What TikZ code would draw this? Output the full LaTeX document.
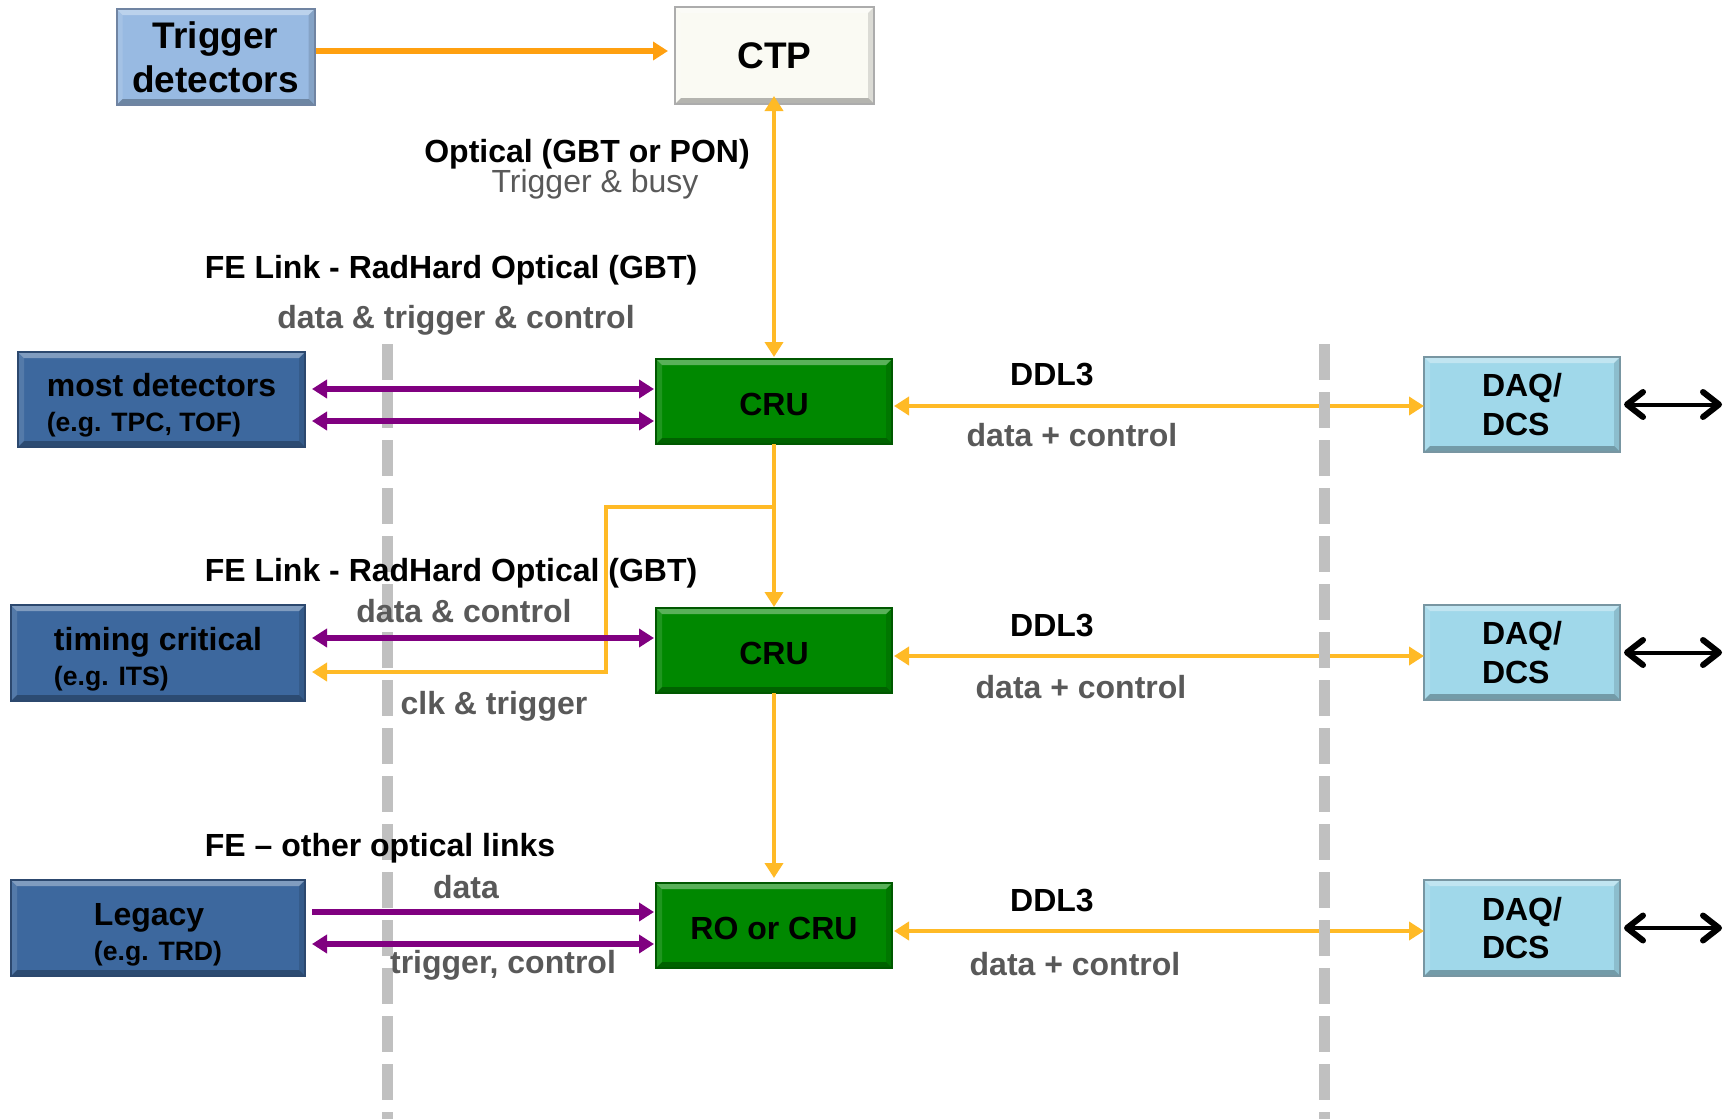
\documentclass[tikz,border=0pt]{standalone}
\usepackage{fontspec}
\setmainfont{Liberation Sans}
\usetikzlibrary{arrows.meta,calc}

\definecolor{trigfill}{RGB}{152,186,226}
\definecolor{trigline}{RGB}{112,132,162}
\definecolor{ctpfill}{RGB}{250,250,243}
\definecolor{ctpline}{RGB}{172,172,172}
\definecolor{fefill}{RGB}{61,104,158}
\definecolor{feline}{RGB}{44,72,110}
\definecolor{crufill}{RGB}{0,136,0}
\definecolor{cruline}{RGB}{0,88,0}
\definecolor{daqfill}{RGB}{160,216,234}
\definecolor{daqline}{RGB}{120,150,162}
\definecolor{linkpurple}{RGB}{128,0,128}
\definecolor{trigorange}{RGB}{255,160,16}
\definecolor{linkorange}{RGB}{255,186,38}
\definecolor{labelgray}{RGB}{89,89,89}
\definecolor{sepgray}{RGB}{192,192,192}

% struts that push box texts slightly down
\newcommand{\felift}{\rule{0pt}{17.7pt}}
\newcommand{\crulift}{\rule{0pt}{14.5pt}}

\tikzset{
  bevel/.style={path picture={
    \coordinate (bbnw) at (path picture bounding box.north west);
    \coordinate (bbne) at (path picture bounding box.north east);
    \coordinate (bbsw) at (path picture bounding box.south west);
    \coordinate (bbse) at (path picture bounding box.south east);
    \fill[white,opacity=0.35] (bbnw) -- (bbne) -- ([shift={(-3pt,-3pt)}]bbne) -- ([shift={(3pt,-3pt)}]bbnw) -- cycle;
    \fill[white,opacity=0.12] (bbnw) -- (bbsw) -- ([shift={(3pt,3pt)}]bbsw) -- ([shift={(3pt,-3pt)}]bbnw) -- cycle;
    \fill[black,opacity=0.12] (bbne) -- (bbse) -- ([shift={(-3pt,3pt)}]bbse) -- ([shift={(-3pt,-3pt)}]bbne) -- cycle;
    \fill[black,opacity=0.28] (bbsw) -- (bbse) -- ([shift={(-3pt,3pt)}]bbse) -- ([shift={(3pt,3pt)}]bbsw) -- cycle;
  }},
  box/.style={draw, line width=1pt, inner sep=0pt, outer sep=0pt, align=center,
    font=\bfseries\fontsize{16}{19.3}\selectfont, bevel},
  topbox/.style={box, minimum width=99pt, minimum height=48pt,
    font=\bfseries\fontsize{18.5}{22}\selectfont},
  febox/.style={box, fill=fefill, draw=feline, align=left,
    minimum width=147pt, minimum height=48pt,
    font=\bfseries\fontsize{16}{17.5}\selectfont},
  crubox/.style={box, fill=crufill, draw=cruline, minimum width=118pt, minimum height=42.5pt},
  daqbox/.style={box, fill=daqfill, draw=daqline, align=left, minimum width=98pt, minimum height=48pt},
  lab/.style={font=\bfseries\fontsize{16}{19}\selectfont, inner sep=0pt,
    text height=11.5pt, text depth=0pt},
  glab/.style={lab, text=labelgray},
  olink/.style={draw=linkorange, line width=2.4pt},
  plink/.style={draw=linkpurple, line width=2.6pt},
  klink/.style={draw=black, line width=2pt,
    {Straight Barb[length=8pt,width=12.5pt,line width=3pt,round]}-{Straight Barb[length=8pt,width=12.5pt,line width=3pt,round]}},
  sepline/.style={draw=sepgray, line width=5.5pt, dash pattern=on 18pt off 6pt},
  >={Triangle[length=7.5pt,width=9pt]}
}

\begin{document}
\begin{tikzpicture}[x=0.5pt,y=-0.5pt]
\useasboundingbox (0,0) rectangle (1731,1119);

% ---- boxes ----
\node[topbox, fill=trigfill, draw=trigline] (trig) at (215.5,57) {Trigger\\detectors};
\node[topbox, fill=ctpfill, draw=ctpline, minimum width=99.5pt, minimum height=48.5pt] (ctp) at (774.5,55.5) {CTP};

\node[febox, minimum width=143.5pt, minimum height=47.5pt] (most) at (161.5,399.5)
  {\felift most detectors\\{\fontsize{13.3}{17.5}\selectfont (e.g. TPC, TOF)}};
\node[febox] (timing) at (158,653)
  {\felift timing critical\\{\fontsize{13.3}{17.5}\selectfont (e.g. ITS)}};
\node[febox] (legacy) at (158,928)
  {\felift Legacy\\{\fontsize{13.3}{17.5}\selectfont (e.g. TRD)}};

\node[crubox] (cru1) at (774,401.5) {\crulift CRU};
\node[crubox] (cru2) at (774,650.5) {\crulift CRU};
\node[crubox] (ro) at (774,925.5) {\crulift RO or CRU};

\node[daqbox, minimum height=47.5pt] (daq1) at (1522,404.5) {DAQ/\\DCS};
\node[daqbox, minimum height=47.5pt] (daq2) at (1522,652.5) {DAQ/\\DCS};
\node[daqbox] (daq3) at (1522,928) {DAQ/\\DCS};

% ---- DDL3 links to DAQ/DCS ----
\coordinate (d1) at ([yshift=-0.75pt]daq1.west);
\coordinate (d2) at ([yshift=-1.75pt]daq2.west);
\coordinate (d3) at ([yshift=-1.5pt]daq3.west);
\draw[olink, <->, shorten <=1pt] (d1 -| cru1.east) -- (d1);
\draw[olink, <->, shorten <=1pt] (d2 -| cru2.east) -- (d2);
\draw[olink, <->, shorten <=1pt] (d3 -| ro.east) -- (d3);

% ---- separators ----
\draw[sepline] (387,344) -- (387,1119);
\draw[sepline] (1324,344) -- (1324,1119);

% ---- trigger path ----
\coordinate (ta) at ([yshift=3pt]trig.east);
\draw[draw=trigorange, line width=2.8pt, ->, shorten <=0.5pt, shorten >=3.5pt] (ta) -- (ta -| ctp.west);
\draw[olink, <->, shorten <=1pt, shorten >=-4pt] (cru1.north) -- (cru1.north |- ctp.south);
\draw[olink, ->, shorten >=0.5pt] (cru1.south) -- (cru2.north);
\coordinate (j) at ($(cru1.south)!0.384!(cru2.north)$);
\coordinate (t1) at ([yshift=-9.5pt]timing.east);
\draw[olink, ->, shorten >=3.5pt] (j) -- ++(-168,0) |- (t1);
\draw[olink, ->, shorten >=2.5pt] (cru2.south) -- (ro.north);

% ---- front-end links ----
\coordinate (m1) at ([yshift=5.25pt]most.east);
\coordinate (m2) at ([yshift=-10.75pt]most.east);
\draw[plink, <->, shorten <=3.5pt, shorten >=1pt] (m1) -- (m1 -| cru1.west);
\draw[plink, <->, shorten <=3.5pt, shorten >=1pt] (m2) -- (m2 -| cru1.west);
\coordinate (m3) at ([yshift=7.5pt]timing.east);
\draw[plink, <->, shorten <=3.5pt, shorten >=1pt] (m3) -- (m3 -| cru2.west);
\coordinate (m4) at ([yshift=8pt]legacy.east);
\coordinate (m5) at ([yshift=-8pt]legacy.east);
\draw[plink, ->, shorten <=3.5pt, shorten >=1pt] (m4) -- (m4 -| ro.west);
\draw[plink, <->, shorten <=3.5pt, shorten >=1pt] (m5) -- (m5 -| ro.west);

% ---- outer connections ----
\draw[klink, shorten <=2pt] (daq1.east) -- ++(102,0);
\draw[klink, shorten <=2pt] (daq2.east) -- ++(102,0);
\draw[klink, shorten <=2pt] (daq3.east) -- ++(102,0);

% ---- labels ----
\node[lab] (optl) at (587,151) {Optical (GBT or PON)};
\node[lab, font=\fontsize{16}{19}\selectfont, text=labelgray] (busy) at (595,181) {Trigger \& busy};

\node[lab] (fe1) at (451,267) {FE Link - RadHard Optical (GBT)};
\node[glab] (fe1d) at (456,317) {data \& trigger \& control};
\node[lab] (ddl1) at (1052,374) {DDL3};
\node[glab] (dc1) at (1072,435) {data + control};

\node[lab] (fe2) at (451,570) {FE Link - RadHard Optical (GBT)};
\node[glab] (fe2d) at (464,611) {data \& control};
\node[glab] (fe2t) at (494,703) {clk \& trigger};
\node[lab] (ddl2) at (1052,625) {DDL3};
\node[glab] (dc2) at (1081,687) {data + control};

\node[lab] (fe3) at (380,845) {FE -- other optical links};
\node[glab] (fe3d) at (466,887) {data};
\node[glab] (fe3t) at (503,962) {trigger, control};
\node[lab] (ddl3) at (1052,900) {DDL3};
\node[glab] (dc3) at (1075,964) {data + control};
\end{tikzpicture}
\end{document}
